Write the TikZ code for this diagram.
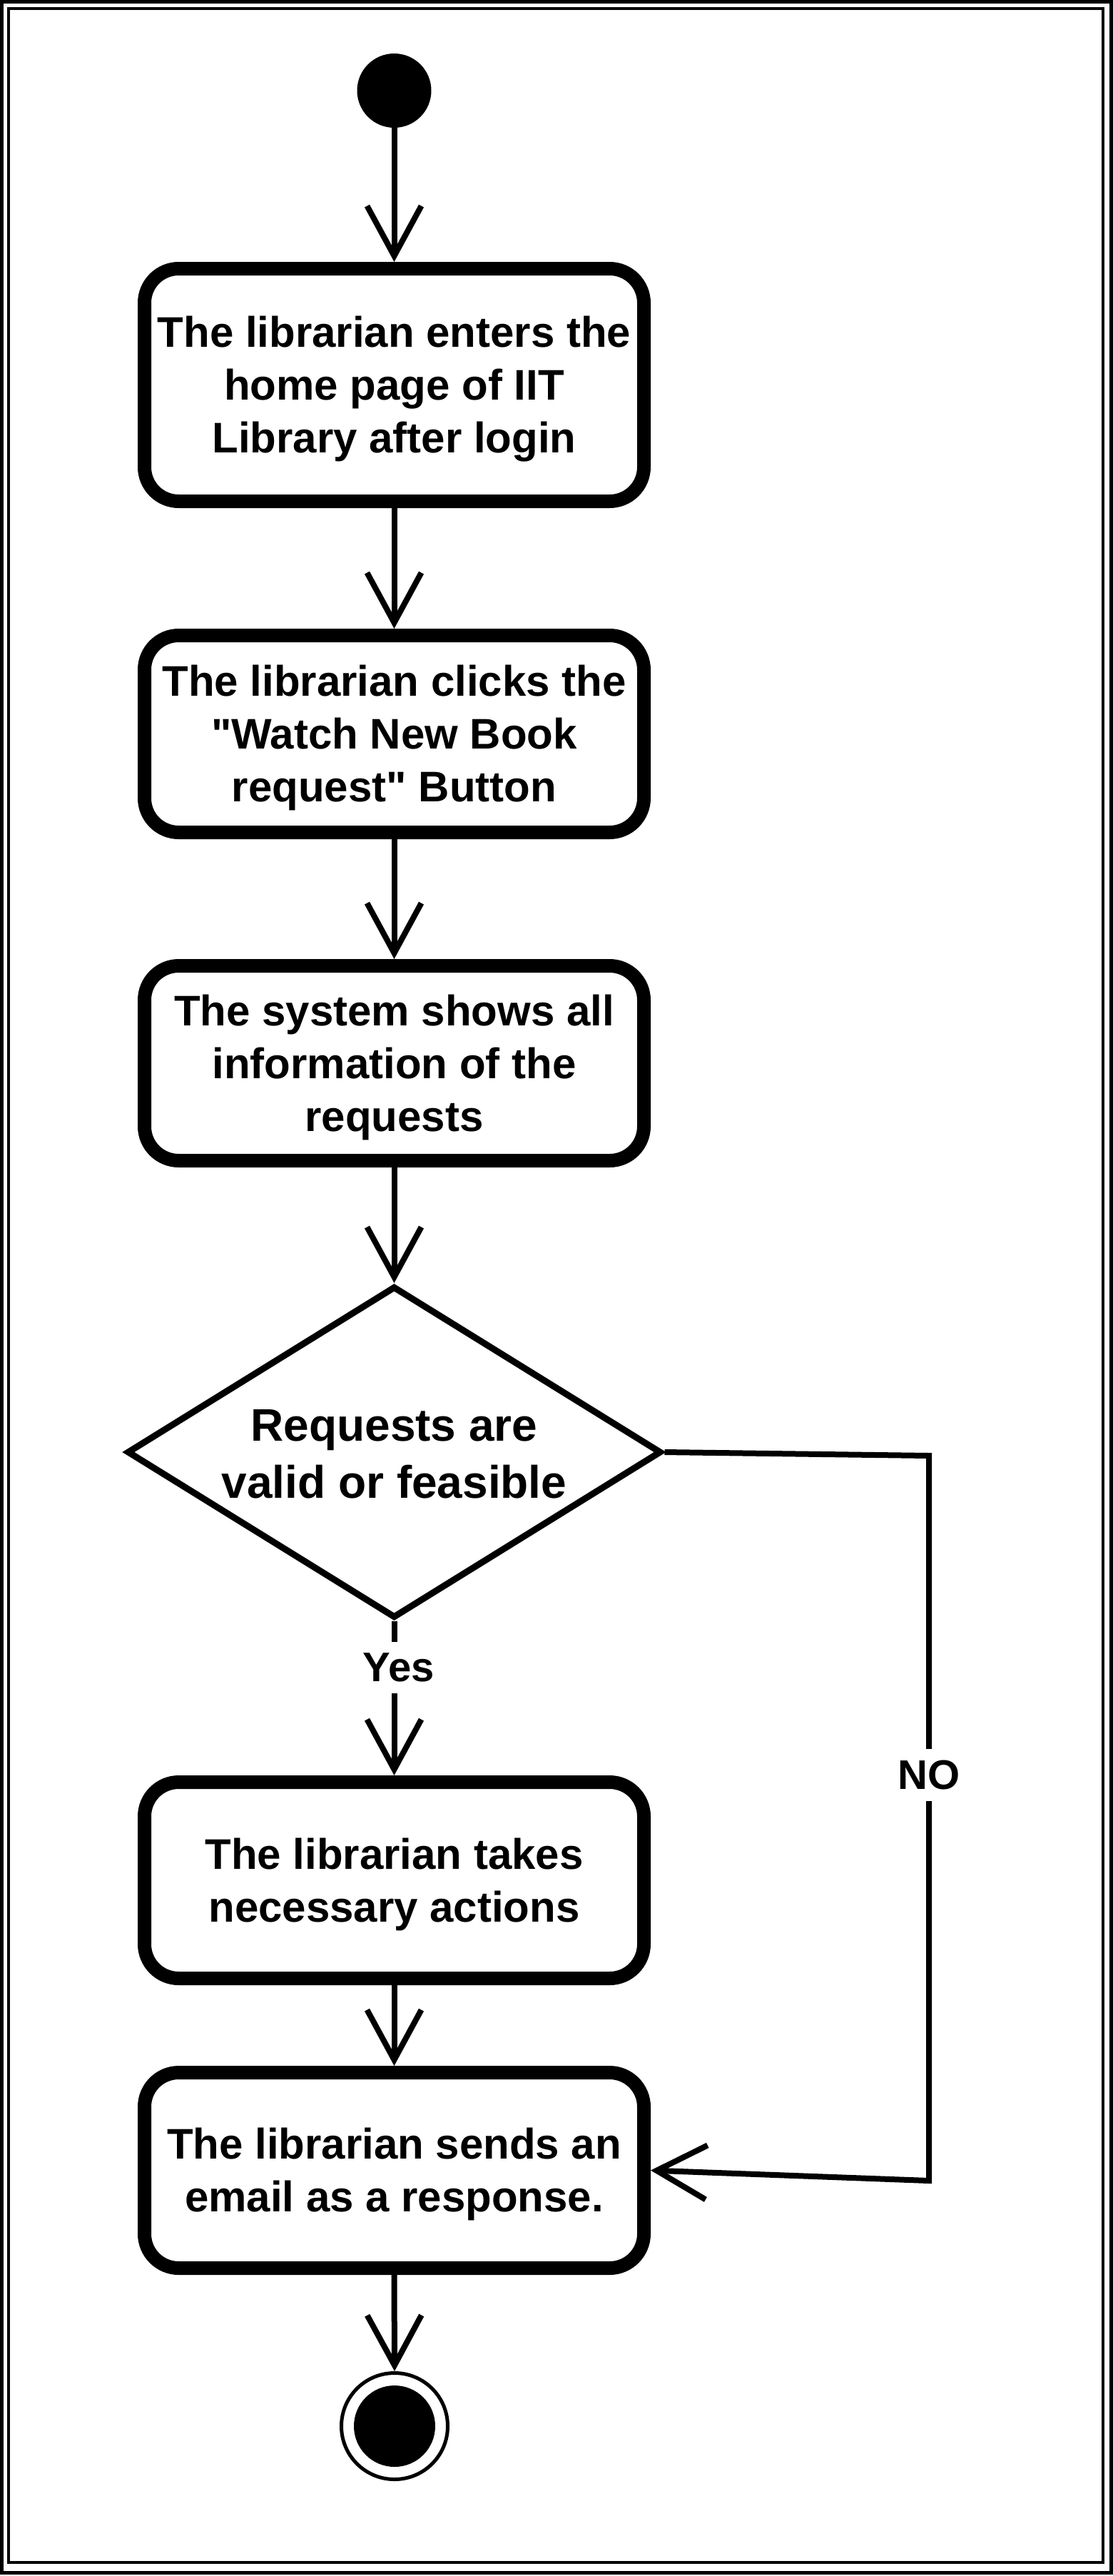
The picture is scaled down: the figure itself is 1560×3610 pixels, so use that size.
\documentclass[tikz,border=0pt]{standalone}
\usepackage{fontspec}
\setmainfont{Liberation Sans}[Ligatures=TeXOff]
\usetikzlibrary{arrows.meta,shapes.geometric}
\newcommand{\ls}{\rule[-16pt]{0pt}{74pt}}
\newcommand{\dls}{\rule[-16pt]{0pt}{80pt}}
\tikzset{
  act/.style={draw, line width=19pt, rounded corners=48pt, minimum width=700pt,
    inner sep=0pt, align=center, font=\bfseries\fontsize{60}{74}\selectfont},
  flow/.style={line width=8pt, -{Straight Barb[length=70pt,width=76pt]}},
  lbl/.style={fill=white, inner xsep=4pt, inner ysep=16pt,
    font=\bfseries\fontsize{58}{70}\selectfont}
}
\begin{document}
\begin{tikzpicture}[x=1pt,y=-1pt]
\useasboundingbox (0,0) rectangle (1560,3610);
\draw[line width=5pt] (2.5,2.5) rectangle (1557.5,3605.5);
\draw[line width=4pt] (12,12) rectangle (1546,3591);

\node[circle, fill=black, minimum size=104pt, inner sep=0pt] (start) at (552.5,127) {};
\node[act, minimum height=326pt] (b1) at (552.5,539.5) {\ls The librarian enters the\\\ls home page of IIT\\\ls Library after login};
\node[act, minimum height=276pt] (b2) at (552.5,1028.5) {\ls The librarian clicks the\\\ls "Watch New Book\\\ls request" Button};
\node[act, minimum height=273pt] (b3) at (552.5,1490) {\ls The system shows all\\\ls information of the\\\ls requests};
\node[diamond, draw, line width=9pt, aspect=1.6, minimum width=749pt, minimum height=465pt,
  inner sep=0pt, align=center, font=\bfseries\fontsize{64}{80}\selectfont] (d) at (552.5,2035) {\dls Requests are\\\dls valid or feasible};
\node[act, minimum height=275pt] (b4) at (552.5,2635) {\ls The librarian takes\\\ls necessary actions};
\node[act, minimum height=274pt] (b5) at (552.5,3041.5) {\ls The librarian sends an\\\ls email as a response.};
\node[circle, draw, line width=5pt, minimum size=149pt, inner sep=0pt] (end) at (553,3400) {};
\fill (end.center) circle[radius=57pt];

\coordinate (c1) at (1302,2040);
\coordinate (c2) at (1302,3056);

\draw[flow] (start.south) -- (b1.north);
\draw[flow] (b1.south) -- (b2.north);
\draw[flow] (b2.south) -- (b3.north);
\draw[flow] (b3.south) -- (d.north);
\draw[flow] (d.south) -- node[lbl, pos=0.3, xshift=6pt] {Yes} (b4.north);
\draw[flow] (b4.south) -- (b5.north);
\draw[flow] (b5.south) -- (end.north);
\draw[flow, line join=miter] (d.east) -- (c1) -- node[lbl, pos=0.44] {NO} (c2) -- (b5.east);
\end{tikzpicture}
\end{document}
